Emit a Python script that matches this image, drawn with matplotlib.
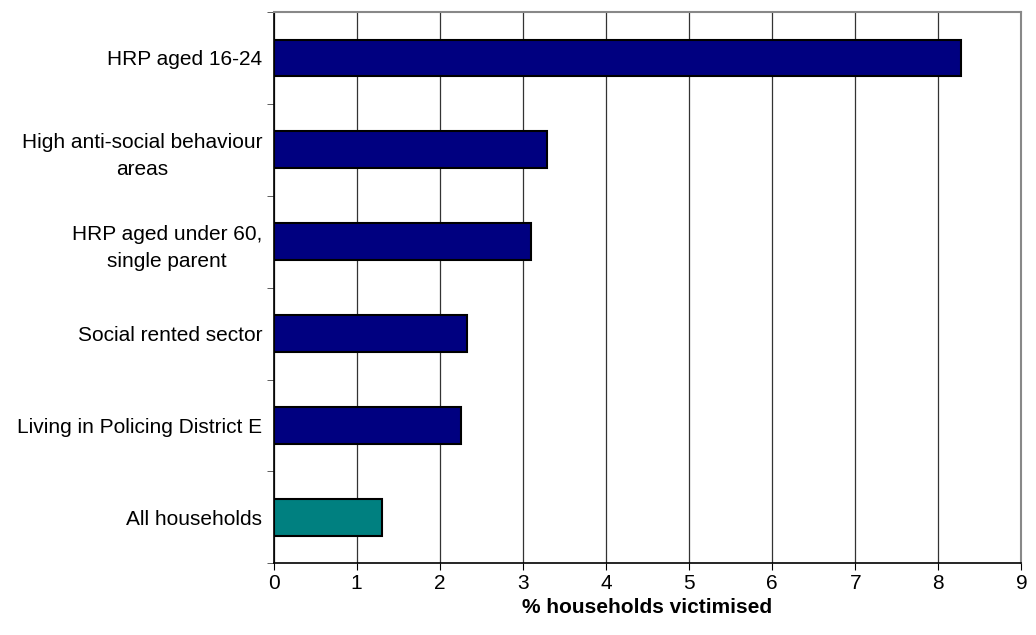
import matplotlib.pyplot as plt
import numpy as np

plt.rcParams['font.family'] = ['Liberation Sans', 'DejaVu Sans']

categories = ["All households", "Living in Policing District E", "Social rented sector",
              "HRP aged under 60,\nsingle parent", "High anti-social behaviour\nareas",
              "HRP aged 16-24"]
values = [1.3, 2.26, 2.33, 3.1, 3.29, 8.27]
colors = ["#008080", "#000080", "#000080", "#000080", "#000080", "#000080"]

fig = plt.figure(figsize=(10.36, 6.35), dpi=100)
ax = fig.add_axes([0.264, 0.113, 0.722, 0.868])

y = np.arange(len(categories))
ax.barh(y, values, height=0.4, color=colors, edgecolor="black", linewidth=1.5, zorder=3)

ax.set_xlim(0, 9)
ax.set_ylim(-0.5, len(categories) - 0.5)
ax.set_xticks(range(10))
ax.xaxis.grid(True, color="#333333", linewidth=0.9, zorder=0)

ax.set_yticks(y)
ax.set_yticklabels(categories, ha="right", multialignment="center", linespacing=1.55)
ax.tick_params(axis="y", length=0, pad=8, labelsize=15)
ax.set_yticks(np.arange(-0.5, len(categories), 1), minor=True)
ax.tick_params(axis="y", which="minor", length=5, direction="out", color="#444444")
ax.tick_params(axis="x", length=5, direction="out", labelsize=15, pad=3)

for s in ["top", "right"]:
    ax.spines[s].set_color("#888888")
    ax.spines[s].set_linewidth(1.5)
for s in ["left", "bottom"]:
    ax.spines[s].set_color("black")
    ax.spines[s].set_linewidth(1.2)

ax.set_xlabel("% households victimised", fontsize=15, fontweight="bold", labelpad=3)

fig.savefig("out.png", dpi=100)
